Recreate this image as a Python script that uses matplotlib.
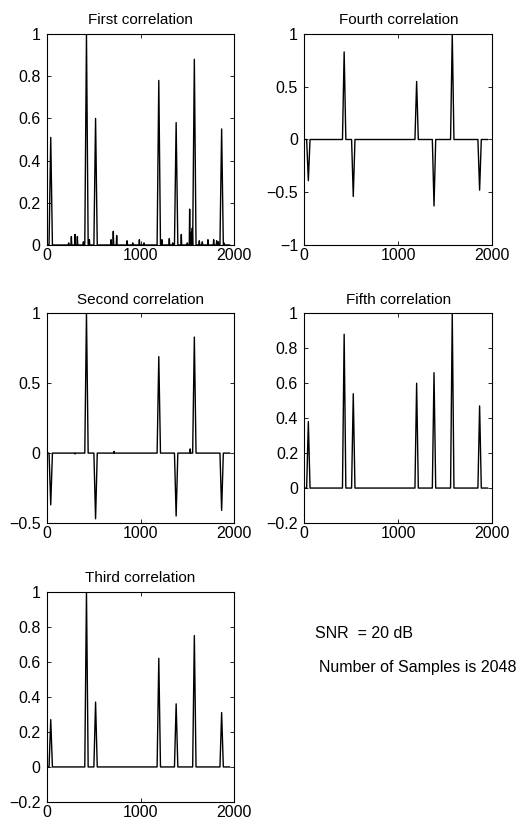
import matplotlib
matplotlib.use("Agg")
import matplotlib.pyplot as plt
from matplotlib.ticker import FuncFormatter

plt.rcParams.update({
    "font.family": ["Liberation Sans", "DejaVu Sans"],
    "font.size": 11.5,
    "axes.linewidth": 0.8,
})

# --- data -----------------------------------------------------------------------------
peak_lags = [43, 424, 521, 1195, 1380, 1574, 1865]
end_lag = 1950

first_peaks = [0.51, 1.00, 0.60, 0.78, 0.58, 0.88, 0.55]
second_peaks = [-0.37, 1.00, -0.47, 0.69, -0.45, 0.83, -0.41]
third_peaks = [0.27, 1.00, 0.37, 0.62, 0.36, 0.75, 0.31]
fourth_peaks = [-0.39, 0.83, -0.54, 0.55, -0.63, 1.00, -0.48]
fifth_peaks = [0.38, 0.88, 0.54, 0.60, 0.66, 1.00, 0.47]

# small side lobes (only visible on the first and second correlation)
first_noise_lags = [234, 263, 302, 327, 391, 455, 686, 710, 746, 856, 917, 988, 1037,
                    1229, 1307, 1343, 1435, 1499, 1524, 1542, 1552, 1627, 1659, 1719,
                    1780, 1812, 1830, 1890]
first_noise_vals = [0.01, 0.04, 0.05, 0.04, 0.015, 0.025, 0.025, 0.065, 0.045, 0.02,
                    0.01, 0.025, 0.01, 0.025, 0.03, 0.01, 0.05, 0.01, 0.17, 0.06, 0.08,
                    0.02, 0.015, 0.025, 0.025, 0.02, 0.015, 0.01]
second_noise_lags = [302, 718, 1530]
second_noise_vals = [-0.006, 0.012, 0.03]

titles = ["First correlation", "Second correlation", "Third correlation",
          "Fourth correlation", "Fifth correlation"]
yticks = [
    [0, 0.2, 0.4, 0.6, 0.8, 1],
    [-0.5, 0, 0.5, 1],
    [-0.2, 0, 0.2, 0.4, 0.6, 0.8, 1],
    [-1, -0.5, 0, 0.5, 1],
    [-0.2, 0, 0.2, 0.4, 0.6, 0.8, 1],
]
xticks = [0, 1000, 2000]
snr_text = "SNR  = 20 dB"
samples_text = "Number of Samples is 2048"

PEAK_HW = 18   # half-width of a correlation spike, in lags
NOISE_HW = 4


def spike_trace(lags, vals, extra_lags=(), extra_vals=()):
    pts = [(l, v, PEAK_HW) for l, v in zip(lags, vals)]
    pts += [(l, v, NOISE_HW) for l, v in zip(extra_lags, extra_vals)]
    pts.sort()
    xs, ys = [0], [0]
    for l, v, hw in pts:
        xs += [l - hw, l, l + hw]
        ys += [0, v, 0]
    xs.append(end_lag)
    ys.append(0)
    return xs, ys


traces = [
    spike_trace(peak_lags, first_peaks, first_noise_lags, first_noise_vals),
    spike_trace(peak_lags, second_peaks, second_noise_lags, second_noise_vals),
    spike_trace(peak_lags, third_peaks),
    spike_trace(peak_lags, fourth_peaks),
    spike_trace(peak_lags, fifth_peaks),
]

# axes rectangles in pixels (MATLAB subplot(3,2,..) look)
W, H = 519, 821
boxes = [
    (46.7, 34, 187.6, 211),
    (46.7, 313.3, 187.6, 209.7),
    (46.7, 591.7, 187.6, 210.3),
    (304.3, 34, 188, 211),
    (304.3, 313.3, 188, 209.7),
]

fig = plt.figure(figsize=(W / 100, H / 100), dpi=100)
fmt = FuncFormatter(lambda v, _: ("%g" % v).replace("-", "\u2212"))

for (xs, ys), title, yt, (bx, by, bw, bh) in zip(traces, titles, yticks, boxes):
    ax = fig.add_axes([bx / W, 1 - (by + bh) / H, bw / W, bh / H])
    ax.plot(xs, ys, color="black", lw=1.0)
    ax.set_xlim(0, 2000)
    ax.set_ylim(yt[0], yt[-1])
    ax.set_xticks(xticks)
    ax.set_yticks(yt)
    ax.xaxis.set_major_formatter(fmt)
    ax.yaxis.set_major_formatter(fmt)
    ax.tick_params(direction="in", top=True, right=True, length=3, width=0.6)
    ax.tick_params(axis="y", pad=4.5)
    ax.tick_params(axis="x", pad=2)
    ax.set_title(title, fontsize=11, pad=7)

fig.text(315 / W, 1 - 633 / H, snr_text, fontsize=11.5, va="center", ha="left")
fig.text(319 / W, 1 - 667 / H, samples_text, fontsize=11.5, va="center", ha="left")

fig.savefig("out.png", dpi=100)
